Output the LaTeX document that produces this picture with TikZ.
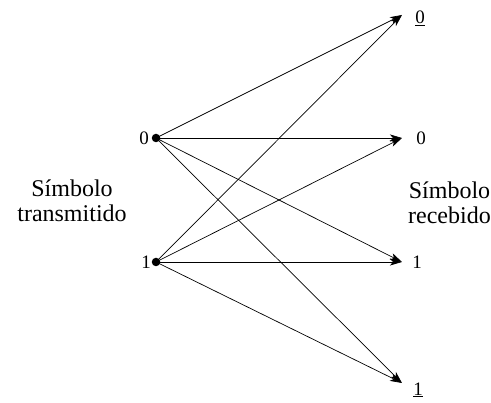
\documentclass[tikz,border=0pt]{standalone}
\usepackage{fontspec}
\setmainfont{Liberation Serif}
\usetikzlibrary{arrows.meta}
\begin{document}
\begin{tikzpicture}[x=1pt,y=1pt,
  conn/.style={-{Stealth[length=12pt,width=7pt,inset=3pt]},line width=0.7pt},
  dotn/.style={circle,fill=black,inner sep=0pt,minimum size=8.5pt},
  lbl/.style={font=\fontsize{19}{22}\selectfont,inner sep=0pt},
  txt/.style={font=\fontsize{24}{25}\selectfont,align=center,inner sep=0pt}]
\useasboundingbox (0,0) rectangle (491,403);
\node[dotn] (s0) at (156,265) {};
\node[dotn] (s1) at (156,141) {};
\coordinate (t0u) at (402,388);
\coordinate (t0) at (402,265);
\coordinate (t1) at (402,141);
\coordinate (t1u) at (402,20);
\node[lbl,anchor=east] (l0) at (149,265) {0};
\node[lbl,anchor=east] (l1) at (151,141) {1};
\node[lbl] (r0u) at (420,385) {\underline{0}};
\node[lbl] (r0) at (421,265) {0};
\node[lbl] (r1) at (417,141) {1};
\node[lbl] (r1u) at (418,13) {\underline{1}};
\node[txt] (ts) at (72,202) {Símbolo\\transmitido};
\node[txt,anchor=east] (rs) at (491,200) {Símbolo\\recebido};
\foreach \s in {s0,s1}{
  \foreach \t in {t0u,t0,t1,t1u}{
    \draw[conn] (\s.center) -- (\t);
  }
}
\end{tikzpicture}
\end{document}
